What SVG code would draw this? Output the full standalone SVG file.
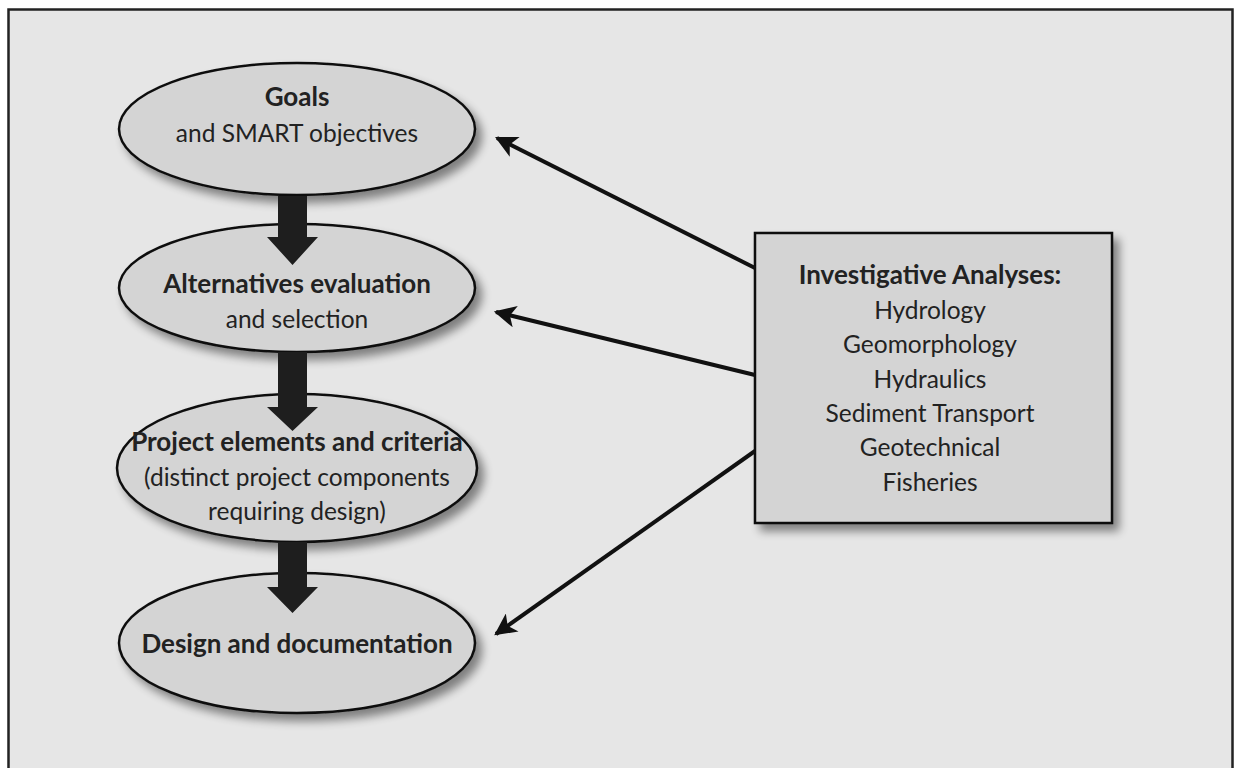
<svg xmlns="http://www.w3.org/2000/svg" width="1236" height="768" viewBox="0 0 1236 768">
<defs>
<filter id="sh" x="-20%" y="-20%" width="150%" height="160%">
<feGaussianBlur in="SourceAlpha" stdDeviation="5"/>
<feOffset dx="6" dy="7" result="b"/>
<feComponentTransfer><feFuncA type="linear" slope="0.45"/></feComponentTransfer>
<feMerge><feMergeNode/><feMergeNode in="SourceGraphic"/></feMerge>
</filter>
<marker id="ah" viewBox="0 0 10 10" refX="9" refY="5" markerWidth="6.5" markerHeight="5.5" orient="auto" markerUnits="strokeWidth">
<path d="M0,0 L10,5 L0,10 L2.5,5 Z" fill="#111"/>
</marker>
</defs>
<style>
.node{fill:#d4d4d4;stroke:#111;stroke-width:2.5}
.t{font-family:Lato,"Open Sans",sans-serif;font-size:24.5px;fill:#222;text-anchor:middle}
.b{font-weight:bold;font-size:26px}
.conn{stroke:#111;stroke-width:4;fill:none;marker-end:url(#ah)}
.blk{fill:#1e1e1e}
</style>
<rect x="8.5" y="9.5" width="1224" height="770" fill="#e6e6e6" stroke="#222" stroke-width="2.5"/>
<g id="goals">
<ellipse class="node" cx="297" cy="129" rx="178" ry="66" filter="url(#sh)"/>
<text class="t b" x="297" y="106">Goals</text>
<text class="t" x="297" y="142">and SMART objectives</text>
</g>
<g id="alternatives">
<ellipse class="node" cx="297" cy="288" rx="178" ry="64" filter="url(#sh)"/>
<text class="t b" x="297" y="293">Alternatives evaluation</text>
<text class="t" x="297" y="328">and selection</text>
</g>
<g id="project">
<ellipse class="node" cx="297" cy="468" rx="180" ry="74" filter="url(#sh)"/>
<text class="t b" x="297" y="451">Project elements and criteria</text>
<text class="t" x="297" y="486">(distinct project components</text>
<text class="t" x="297" y="520">requiring design)</text>
</g>
<g id="design">
<ellipse class="node" cx="297" cy="643" rx="178" ry="70" filter="url(#sh)"/>
<text class="t b" x="297" y="653">Design and documentation</text>
</g>
<g id="analyses">
<rect class="node" x="755" y="233" width="357" height="290" stroke="#333" stroke-width="3" filter="url(#sh)"/>
<text class="t b" x="930" y="284">Investigative Analyses:</text>
<text class="t" x="930" y="319">Hydrology</text>
<text class="t" x="930" y="353">Geomorphology</text>
<text class="t" x="930" y="388">Hydraulics</text>
<text class="t" x="930" y="422">Sediment Transport</text>
<text class="t" x="930" y="456">Geotechnical</text>
<text class="t" x="930" y="491">Fisheries</text>
</g>
<g id="connectors">
<path class="blk" d="M278,196 H307 V237 H318 L292.5,265 L267,237 H278 Z"/>
<path class="blk" d="M278,352 H307 V407 H318 L292.5,431 L267,407 H278 Z"/>
<path class="blk" d="M278,542 H307 V587 H318 L292.5,613 L267,587 H278 Z"/>
<line class="conn" x1="755" y1="268" x2="497" y2="138"/>
<line class="conn" x1="755" y1="375" x2="496" y2="312"/>
<line class="conn" x1="755" y1="451" x2="496" y2="634"/>
</g>
</svg>
